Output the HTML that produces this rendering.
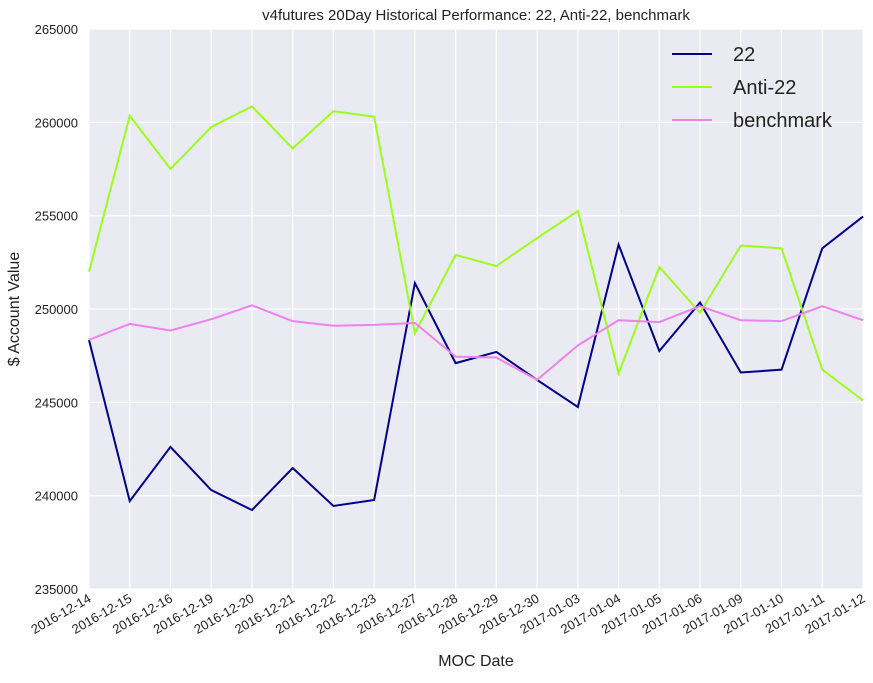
<!DOCTYPE html>
<html><head><meta charset="utf-8">
<style>
body{margin:0;background:#fff;font-family:"Liberation Sans",sans-serif;}
svg text{font-family:"Liberation Sans",sans-serif;}
</style></head>
<body>
<svg id="chart" width="873" height="678">
<text x="476" y="20" font-size="15" text-anchor="middle" fill="#222">v4futures 20Day Historical Performance: 22, Anti-22, benchmark</text>
<rect x="89" y="29" width="774" height="560" fill="#EAEAF2"/>
<g id="grid"></g>
<g id="ylabels"></g>
<g id="xlabels"></g>
<g id="series"></g>
<text x="476" y="666" font-size="16" text-anchor="middle" fill="#222">MOC Date</text>
<text transform="translate(19,309) rotate(-90)" font-size="16" text-anchor="middle" fill="#222">$ Account Value</text>
<g id="legend"></g>
</svg>
<script>
const dates=["2016-12-14","2016-12-15","2016-12-16","2016-12-19","2016-12-20","2016-12-21","2016-12-22","2016-12-23","2016-12-27","2016-12-28","2016-12-29","2016-12-30","2017-01-03","2017-01-04","2017-01-05","2017-01-06","2017-01-09","2017-01-10","2017-01-11","2017-01-12"];
const s22=[248340,239710,242610,240300,239230,241480,239450,239770,251390,247100,247700,246200,244750,253450,247750,250350,246600,246750,253250,254950];
const sAnti=[252000,260350,257500,259750,260850,258600,260600,260300,248700,252900,252300,253800,255250,246550,252250,249800,253400,253250,246750,245100];
const sBench=[248350,249200,248850,249450,250200,249350,249100,249150,249250,247450,247400,246200,248050,249400,249300,250150,249400,249350,250150,249400];
const yTicks=[235000,240000,245000,250000,255000,260000,265000];
const seriesNames=["22","Anti-22","benchmark"];
const NS="http://www.w3.org/2000/svg";
const X0=89,X1=863,Y0=589,Y1=29,YMIN=235000,YMAX=265000;
const xs=i=>X0+i*(X1-X0)/(dates.length-1);
const ys=v=>Y0-(v-YMIN)/(YMAX-YMIN)*(Y0-Y1);
function mk(tag,attrs,parent){const e=document.createElementNS(NS,tag);for(const k in attrs)e.setAttribute(k,attrs[k]);parent.appendChild(e);return e;}
const grid=document.getElementById('grid'),yl=document.getElementById('ylabels'),xl=document.getElementById('xlabels'),sg=document.getElementById('series'),lg=document.getElementById('legend');
yTicks.forEach(t=>{
 const l=mk('line',{x1:X0,x2:X1,y1:ys(t),y2:ys(t),stroke:'#fff','stroke-width':1.2},grid);
 
 
 const tx=mk('text',{x:78,y:ys(t)+5,'font-size':13,'text-anchor':'end',fill:'#222'},yl);
 tx.textContent=t;
 
 
});
dates.forEach((d,i)=>{
 const l=mk('line',{x1:xs(i),x2:xs(i),y1:Y1,y2:Y0,stroke:'#fff','stroke-width':1.2},grid);
 
 
 const tx=mk('text',{transform:`translate(${xs(i)+3},${Y0+12}) rotate(-30)`,'font-size':13,'text-anchor':'end',fill:'#222'},xl);
 tx.textContent=d;
 
 
});
const colors=["#00008B","#9AFF1A","#EE82EE"];
[s22,sAnti,sBench].forEach((arr,k)=>{
 const p=mk('polyline',{points:arr.map((v,i)=>xs(i)+','+ys(v)).join(' '),fill:'none',stroke:colors[k],'stroke-width':2},sg);
 
 
 const ll=mk('line',{x1:672,x2:712,y1:54+k*33,y2:54+k*33,stroke:colors[k],'stroke-width':2},lg);
 
 
 const lt=mk('text',{x:733,y:61+k*33,'font-size':20,fill:'#222'},lg);
 lt.textContent=seriesNames[k];
 
 
});
</script>
</body></html>
